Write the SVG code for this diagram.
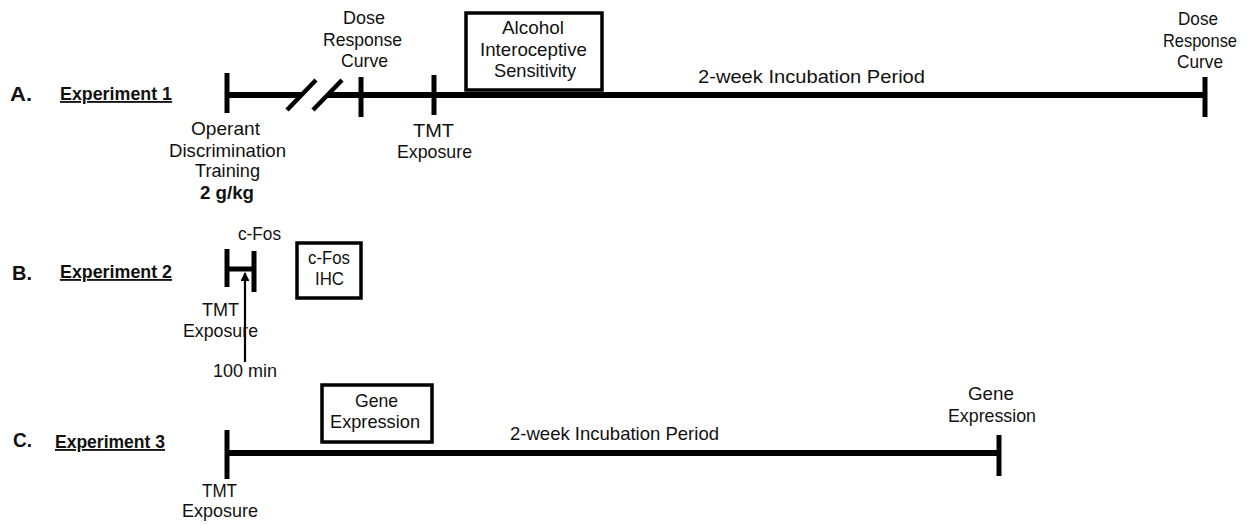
<svg xmlns="http://www.w3.org/2000/svg" width="1257" height="525" viewBox="0 0 1257 525">
<style>
text{font-family:"Liberation Sans","Open Sans",sans-serif;font-size:18.5px;fill:#111;}
.b{font-weight:bold;}
.L{font-weight:bold;font-size:20px;}
.u{font-weight:bold;text-decoration:underline;}
.tl{stroke:#000;stroke-width:6;fill:none;}
.tk{stroke:#000;stroke-width:5;fill:none;}
.sl{stroke:#000;stroke-width:4.5;fill:none;}
.box{stroke:#000;stroke-width:3.5;fill:#fff;}
.ar{stroke:#000;stroke-width:2.2;fill:none;}
</style>
<defs>
<marker id="ah" viewBox="0 0 10 10" refX="9" refY="5" markerWidth="4" markerHeight="4" orient="auto" markerUnits="strokeWidth">
<path d="M0,0 L10,5 L0,10 z" fill="#000"/>
</marker>
</defs>

<g id="labels">
<text class="L" x="10" y="101" textLength="22" lengthAdjust="spacingAndGlyphs">A.</text>
<text class="u" x="60" y="100" textLength="112" lengthAdjust="spacingAndGlyphs">Experiment 1</text>
<text class="L" x="12" y="280" textLength="20" lengthAdjust="spacingAndGlyphs">B.</text>
<text class="u" x="60" y="278" textLength="112" lengthAdjust="spacingAndGlyphs">Experiment 2</text>
<text class="L" x="13" y="447" textLength="19" lengthAdjust="spacingAndGlyphs">C.</text>
<text class="u" x="55" y="448" textLength="110" lengthAdjust="spacingAndGlyphs">Experiment 3</text>
</g>

<g id="connectors">
<!-- Experiment 1 timeline -->
<line class="tl" x1="227" y1="95" x2="301" y2="95"/>
<line class="tl" x1="327" y1="95" x2="1205" y2="95"/>
<line class="sl" x1="287" y1="110" x2="316" y2="80"/>
<line class="sl" x1="313" y1="110" x2="342" y2="80"/>
<line class="tk" x1="227" y1="73" x2="227" y2="113"/>
<line class="tk" x1="361" y1="77" x2="361" y2="117"/>
<line class="tk" x1="434" y1="75" x2="434" y2="115"/>
<line class="tk" x1="1205" y1="77" x2="1205" y2="117"/>
<!-- Experiment 2 -->
<line class="tl" x1="227" y1="269" x2="254" y2="269" style="stroke-width:5"/>
<line class="tk" x1="227" y1="249" x2="227" y2="287"/>
<line class="tk" x1="254" y1="251" x2="254" y2="292"/>
<line class="ar" x1="245" y1="362" x2="245" y2="273" marker-end="url(#ah)"/>
<!-- Experiment 3 -->
<line class="tl" x1="227" y1="453" x2="999" y2="453"/>
<line class="tk" x1="227" y1="430" x2="227" y2="479"/>
<line class="tk" x1="999" y1="435" x2="999" y2="476"/>
</g>

<g id="exp1-start">
<text x="191" y="135" textLength="69" lengthAdjust="spacingAndGlyphs">Operant</text>
<text x="169" y="157" textLength="117" lengthAdjust="spacingAndGlyphs">Discrimination</text>
<text x="195" y="177" textLength="65" lengthAdjust="spacingAndGlyphs">Training</text>
<text class="b" x="200" y="199" textLength="54" lengthAdjust="spacingAndGlyphs">2 g/kg</text>
</g>
<g id="exp1-dose1">
<text x="343" y="24" textLength="42" lengthAdjust="spacingAndGlyphs">Dose</text>
<text x="323" y="46" textLength="79" lengthAdjust="spacingAndGlyphs">Response</text>
<text x="341" y="67" textLength="47" lengthAdjust="spacingAndGlyphs">Curve</text>
</g>
<g id="exp1-tmt">
<text x="413" y="137" textLength="41" lengthAdjust="spacingAndGlyphs">TMT</text>
<text x="397" y="158" textLength="75" lengthAdjust="spacingAndGlyphs">Exposure</text>
</g>
<g id="exp1-alcohol">
<rect class="box" x="466" y="13" width="136" height="77"/>
<text x="502" y="34" textLength="62" lengthAdjust="spacingAndGlyphs">Alcohol</text>
<text x="480" y="56" textLength="107" lengthAdjust="spacingAndGlyphs">Interoceptive</text>
<text x="494" y="77" textLength="82" lengthAdjust="spacingAndGlyphs">Sensitivity</text>
</g>
<g id="exp1-incubation">
<text x="698" y="83" textLength="227" lengthAdjust="spacingAndGlyphs">2-week Incubation Period</text>
</g>
<g id="exp1-dose2">
<text x="1178" y="25" textLength="40" lengthAdjust="spacingAndGlyphs">Dose</text>
<text x="1163" y="47" textLength="74" lengthAdjust="spacingAndGlyphs">Response</text>
<text x="1177" y="68" textLength="46" lengthAdjust="spacingAndGlyphs">Curve</text>
</g>

<g id="exp2-cfos">
<text x="238" y="240" textLength="43" lengthAdjust="spacingAndGlyphs">c-Fos</text>
</g>
<g id="exp2-tmt">
<text x="202" y="316" textLength="37" lengthAdjust="spacingAndGlyphs">TMT</text>
<text x="183" y="337" textLength="75" lengthAdjust="spacingAndGlyphs">Exposure</text>
</g>
<g id="exp2-100min">
<text x="213" y="377" textLength="64" lengthAdjust="spacingAndGlyphs">100 min</text>
</g>
<g id="exp2-ihc">
<rect class="box" x="297" y="243" width="64" height="55"/>
<text x="308" y="264" textLength="42" lengthAdjust="spacingAndGlyphs">c-Fos</text>
<text x="315" y="285" textLength="29" lengthAdjust="spacingAndGlyphs">IHC</text>
</g>

<g id="exp3-tmt">
<text x="202" y="497" textLength="35" lengthAdjust="spacingAndGlyphs">TMT</text>
<text x="182" y="517" textLength="76" lengthAdjust="spacingAndGlyphs">Exposure</text>
</g>
<g id="exp3-gene1">
<rect class="box" x="322" y="385" width="110" height="57"/>
<text x="355" y="407" textLength="43" lengthAdjust="spacingAndGlyphs">Gene</text>
<text x="330" y="428" textLength="90" lengthAdjust="spacingAndGlyphs">Expression</text>
</g>
<g id="exp3-incubation">
<text x="510" y="440" textLength="209" lengthAdjust="spacingAndGlyphs">2-week Incubation Period</text>
</g>
<g id="exp3-gene2">
<text x="968" y="400" textLength="46" lengthAdjust="spacingAndGlyphs">Gene</text>
<text x="948" y="422" textLength="88" lengthAdjust="spacingAndGlyphs">Expression</text>
</g>
</svg>
